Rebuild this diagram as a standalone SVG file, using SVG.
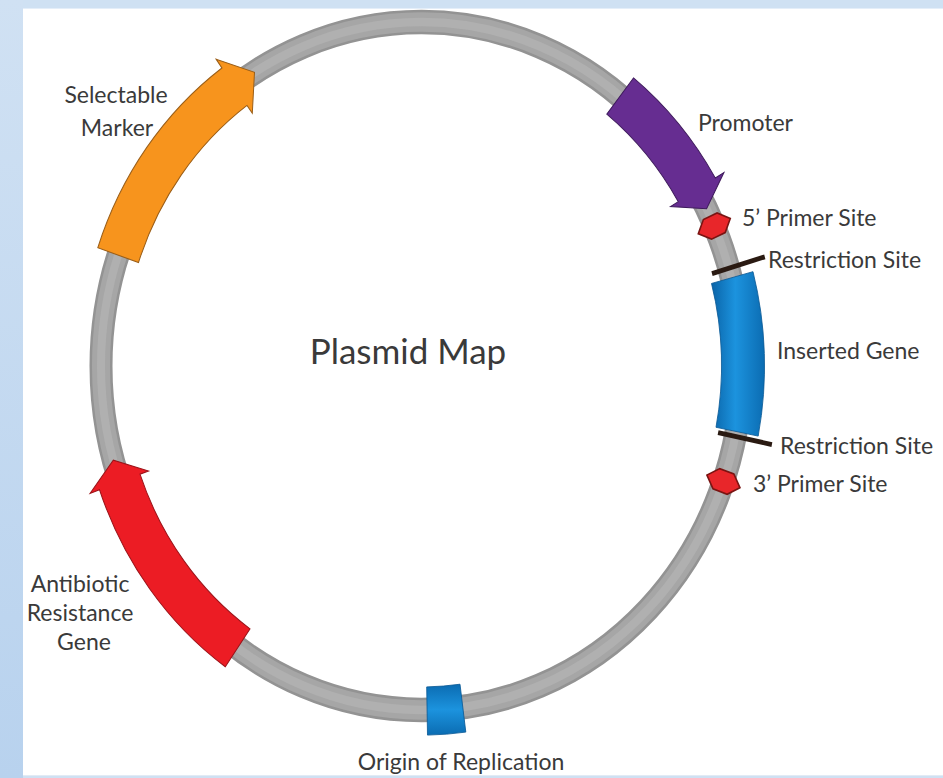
<svg xmlns="http://www.w3.org/2000/svg" width="943" height="778" viewBox="0 0 943 778">
  <defs>
    <linearGradient id="sideBand" x1="0" y1="0" x2="0" y2="1">
      <stop offset="0" stop-color="#d0e1f3"/>
      <stop offset="1" stop-color="#b8d2ee"/>
    </linearGradient>
    <linearGradient id="blueGrad" x1="0" y1="0" x2="1" y2="0">
      <stop offset="0" stop-color="#0a64a8"/>
      <stop offset="0.45" stop-color="#1c93de"/>
      <stop offset="1" stop-color="#0b6cb2"/>
    </linearGradient>
    <linearGradient id="blueGradV" x1="0" y1="0" x2="0" y2="1">
      <stop offset="0" stop-color="#0b6cb2"/>
      <stop offset="0.5" stop-color="#1c93de"/>
      <stop offset="1" stop-color="#0b6cb2"/>
    </linearGradient>
    <!-- primer-site marker, drawn at the ring radius pointing outward -->
    <polygon id="primer" points="0,-338 10,-328 10,-313 0,-303 -10,-313 -10,-328"/>
  </defs>
  <style>
    text { font-family: Lato, "Open Sans", "Liberation Sans", sans-serif; fill: #3a3a3a; font-size: 23px; }
    .title { font-size: 35px; }
    .mid { text-anchor: middle; }
    .orange { fill: #f7941d; stroke: #9a5e18; stroke-width: 1; }
    .purple { fill: #662d91; stroke: #3e1a5c; stroke-width: 1; }
    .red { fill: #ec1c24; stroke: #9c1218; stroke-width: 1; }
    .blue { fill: url(#blueGrad); stroke: #0a5a96; stroke-width: 0.8; }
    .primer { fill: #e8262a; stroke: #7a1412; stroke-width: 1.6; }
    .cut { stroke: #2a1a12; stroke-width: 4.5; stroke-linecap: butt; }
  </style>

  <!-- page background -->
  <g id="background">
    <rect x="0" y="0" width="943" height="778" fill="#cfe1f3"/>
    <rect x="0" y="0" width="23" height="778" fill="url(#sideBand)"/>
    <rect x="23" y="8" width="920" height="768" fill="#ffffff"/>
    <line x1="23" y1="8.5" x2="943" y2="8.5" stroke="#e4eef9" stroke-width="1"/>
    <line x1="23" y1="775.5" x2="943" y2="775.5" stroke="#e2ebf5" stroke-width="1"/>
  </g>

  <!-- plasmid backbone -->
  <g id="connectors">
    <g transform="translate(421.5 366) scale(1 1.0733)">
      <circle cx="0" cy="0" r="320.5" fill="none" stroke="#939393" stroke-width="23"/>
      <circle cx="0" cy="0" r="320.5" fill="none" stroke="#a6a6a6" stroke-width="18"/>
      <circle cx="0" cy="0" r="320.5" fill="none" stroke="#b0b0b0" stroke-width="8"/>
    </g>
  </g>

  <g id="title">
    <text class="title mid" x="408" y="364">Plasmid Map</text>
  </g>

  <g id="selectable-marker">
    <g transform="translate(421.5 366) scale(1 1.0733)">
      <path class="orange" d="M-323.7,-110.2 A342,342 0 0 1 -199.6,-277.7 L-205.4,-285.9 L-167.0,-273.6 L-169.2,-235.5 L-174.5,-242.8 A299,299 0 0 0 -283.0,-96.4 Z"/>
    </g>
    <text class="mid" x="116" y="103">Selectable</text>
    <text class="mid" x="117" y="136">Marker</text>
  </g>

  <g id="promoter">
    <g transform="translate(421.5 366) scale(1 1.0733)">
      <path class="purple" d="M212.0,-268.4 A342,342 0 0 1 293.8,-175.1 L302.4,-180.2 L285.1,-146.5 L249.1,-148.5 L256.8,-153.1 A299,299 0 0 0 185.3,-234.7 Z"/>
    </g>
    <text x="698" y="131">Promoter</text>
  </g>

  <g id="primer-5">
    <g transform="translate(421.5 366) scale(1 1.0733)">
      <use href="#primer" class="primer" transform="rotate(66)"/>
    </g>
    <text x="742" y="226">5’ Primer Site</text>
  </g>

  <g id="restriction-site-1">
    <g transform="translate(421.5 366) scale(1 1.0733)">
      <line class="cut" x1="290.5" y1="-86.1" x2="343.3" y2="-101.7"/>
    </g>
    <text x="768" y="268">Restriction Site</text>
  </g>

  <g id="inserted-gene">
    <g transform="translate(421.5 366) scale(1 1.0733)">
      <path class="blue" d="M331.5,-87.9 A343,343 0 0 1 336.7,65.3 L294.5,57.1 A300,300 0 0 0 290.0,-76.9 Z"/>
    </g>
    <text x="777" y="359">Inserted Gene</text>
  </g>

  <g id="restriction-site-2">
    <g transform="translate(421.5 366) scale(1 1.0733)">
      <line class="cut" x1="296.6" y1="62.0" x2="350.4" y2="73.2"/>
    </g>
    <text x="780" y="454">Restriction Site</text>
  </g>

  <g id="primer-3">
    <g transform="translate(421.5 366) scale(1 1.0733)">
      <use href="#primer" class="primer" transform="rotate(109.6)"/>
    </g>
    <text x="753" y="492">3’ Primer Site</text>
  </g>

  <g id="origin">
    <g transform="translate(421.5 366) scale(1 1.0733)">
      <path fill="url(#blueGradV)" stroke="#0a5a96" stroke-width="0.8" d="M44.3,341.1 A344,344 0 0 1 6.0,343.9 L5.2,299.0 A299,299 0 0 0 38.5,296.5 Z"/>
    </g>
    <text class="mid" x="461" y="770">Origin of Replication</text>
  </g>

  <g id="antibiotic-resistance">
    <g transform="translate(421.5 366) scale(1 1.0733)">
      <path class="red" d="M-196.2,280.2 A342,342 0 0 1 -322.0,115.3 L-331.4,118.7 L-308.2,87.8 L-273.0,97.8 L-281.5,100.8 A299,299 0 0 0 -171.5,244.9 Z"/>
    </g>
    <text class="mid" x="80" y="592">Antibiotic</text>
    <text class="mid" x="80" y="621">Resistance</text>
    <text class="mid" x="84" y="650">Gene</text>
  </g>
</svg>
